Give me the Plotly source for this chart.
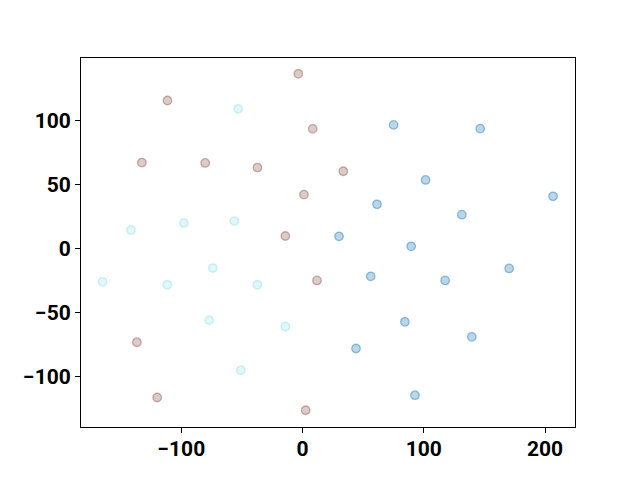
import plotly.graph_objects as go

blue_x = [75.1, 146.5, 101.5, 61.4, 131.4, 206.6, 30.1, 89.6, 56.2, 117.6, 170.4, 84.4, 139.6, 44.1, 92.7]
blue_y = [96.9, 94.0, 53.8, 34.7, 26.6, 41.0, 9.6, 1.8, -21.7, -24.9, -15.5, -57.3, -69.1, -78.2, -114.8]

brown_x = [-3.5, -111.4, 8.4, -132.5, -80.3, -37.2, 1.2, -14.2, 33.6, 11.9, -136.6, -119.9, 2.6]
brown_y = [136.9, 116.0, 93.8, 67.4, 67.1, 63.5, 42.3, 9.9, 60.6, -24.9, -73.3, -116.6, -126.6]

cyan_x = [-53.1, -141.5, -97.9, -56.2, -164.9, -111.6, -74.0, -37.2, -77.0, -14.2, -50.9]
cyan_y = [109.5, 14.6, 20.1, 21.6, -26.0, -28.3, -15.2, -28.3, -56.0, -61.0, -95.2]

x_ticks = [-100, 0, 100, 200]
y_ticks = [-100, -50, 0, 50, 100]

fig = go.Figure()

def add(xs, ys, rgb, a_fill, a_line):
    fig.add_trace(go.Scatter(
        x=xs, y=ys, mode="markers",
        marker=dict(size=8.5, color=f"rgba({rgb},{a_fill})",
                    line=dict(color=f"rgba({rgb},{a_line})", width=1.3)),
        showlegend=False, hoverinfo="skip"))

add(blue_x, blue_y, "31,119,180", 0.3, 0.45)
add(brown_x, brown_y, "140,86,75", 0.3, 0.45)
add(cyan_x, cyan_y, "23,190,207", 0.13, 0.2)

axis_common = dict(showgrid=False, zeroline=False, showline=True, linecolor="black",
                   linewidth=1, mirror=True, ticks="outside", ticklen=5, tickwidth=1,
                   tickcolor="black", automargin=False,
                   tickfont=dict(family="Roboto", size=21, color="black", weight="bold"))

fig.update_layout(
    width=640, height=480,
    margin=dict(l=73, r=73, t=50, b=61),
    paper_bgcolor="white", plot_bgcolor="white",
    xaxis=dict(range=[-182.7, 224.7], tickvals=x_ticks, ticklabelstandoff=-2, **axis_common),
    yaxis=dict(range=[-139.7, 149.3], tickvals=y_ticks, **axis_common),
)

fig.write_html("out.html")
